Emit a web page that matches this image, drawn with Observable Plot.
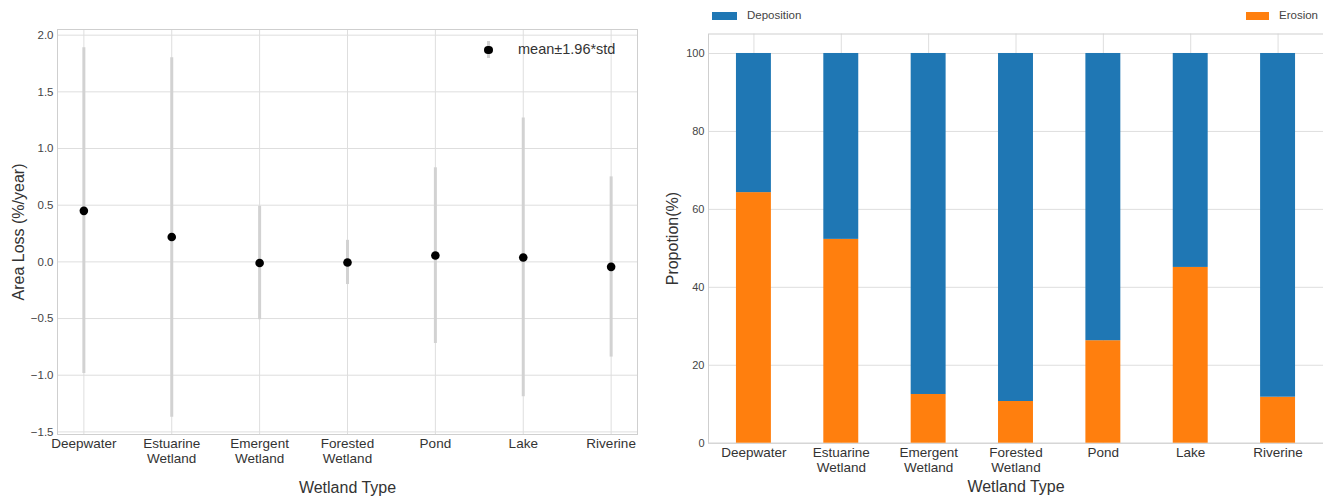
<!DOCTYPE html>
<html>
<head>
<meta charset="utf-8">
<script src="https://cdn.jsdelivr.net/npm/d3@7"></script>
<script src="https://cdn.jsdelivr.net/npm/@observablehq/plot@0.6"></script>
<style>
  body { margin: 0; background: white; }
  #root { position: relative; width: 1323px; height: 496px; overflow: hidden; background: white;
          font-family: "Liberation Sans", Arial, sans-serif; }
  .panel { position: absolute; top: 0; }
  .lg { position: absolute; color: #333; white-space: nowrap; line-height: 1; }
</style>
</head>
<body>
<div id="root"></div>
<script>
// ---------- data ----------
const categories = ["Deepwater", "Estuarine Wetland", "Emergent Wetland", "Forested Wetland", "Pond", "Lake", "Riverine"];
const tickLabels = ["Deepwater", "Estuarine\nWetland", "Emergent\nWetland", "Forested\nWetland", "Pond", "Lake", "Riverine"];
const meanLoss  = [0.45, 0.22, -0.01, -0.005, 0.056, 0.039, -0.044];
const lowerLoss = [-0.985, -1.37, -0.51, -0.20, -0.72, -1.19, -0.84];
const upperLoss = [1.89, 1.80, 0.49, 0.19, 0.83, 1.27, 0.75];
const erosion    = [64.3, 52.3, 12.5, 10.7, 26.3, 45.1, 11.8];
const deposition = [35.7, 47.7, 87.5, 89.3, 73.7, 54.9, 88.2];
const seriesNames = ["Deposition", "Erosion"];
const seriesColors = ["#1f77b4", "#ff7f0e"];
const yTicksLeft = [-1.5, -1.0, -0.5, 0.0, 0.5, 1.0, 1.5, 2.0];
const yTicksRight = [0, 20, 40, 60, 80, 100];
const legendLeft = "mean±1.96*std";

// ---------- tables ----------
const lossRows = categories.map((c, i) => ({cat: c, mean: meanLoss[i], lo: lowerLoss[i], hi: upperLoss[i]}));
const propRows = [];
categories.forEach((c, i) => {
  propRows.push({cat: c, type: "Erosion", value: erosion[i]});
  propRows.push({cat: c, type: "Deposition", value: deposition[i]});
});
const labelOf = new Map(categories.map((c, i) => [c, tickLabels[i]]));
const FONT = "'Liberation Sans', Arial, sans-serif";
const GRID = "#dedede";
const FRAME = "#cfcfcf";
const fmtMinus = d => d.toFixed(1).replace("-", "\u2212");

const root = document.getElementById("root");

// ---------- left panel ----------
const left = Plot.plot({
  width: 660, height: 496,
  marginLeft: 57, marginRight: 23, marginTop: 29, marginBottom: 62,
  style: {fontFamily: FONT, background: "white", color: "#333", overflow: "visible"},
  x: {type: "point", domain: categories, padding: 0.3, round: false},
  y: {domain: [-1.523, 2.05]},
  marks: [
    Plot.gridX(categories, {stroke: GRID, strokeOpacity: 1}),
    Plot.gridY(yTicksLeft, {stroke: GRID, strokeOpacity: 1}),
    Plot.frame({stroke: FRAME}),
    Plot.ruleX(lossRows, {x: "cat", y1: "lo", y2: "hi", stroke: "#d2d2d2", strokeWidth: 3}),
    Plot.dot(lossRows, {x: "cat", y: "mean", r: 4.3, fill: "black"}),
    Plot.axisY(yTicksLeft, {tickSize: 0, tickPadding: 4, tickFormat: fmtMinus, fontSize: 11.5, fill: "#444", label: null}),
    Plot.axisX(categories, {tickSize: 0, tickPadding: 3, tickFormat: d => labelOf.get(d), fontSize: 13.5, lineHeight: 1.11, fill: "#333", label: null}),
    Plot.text(["Wetland Type"], {frameAnchor: "bottom", lineAnchor: "middle", dy: 53, fontSize: 16, fill: "#333"}),
    Plot.text(["Area Loss (%/year)"], {frameAnchor: "left", textAnchor: "middle", dx: -39, rotate: -90, fontSize: 16, fill: "#333"})
  ]
});
left.classList.add("panel");
left.style.left = "0px";
root.appendChild(left);

// ---------- right panel ----------
const right = Plot.plot({
  width: 663, height: 496,
  marginLeft: 48, marginRight: 0, marginTop: 33.5, marginBottom: 53.3,
  style: {fontFamily: FONT, background: "white", color: "#333", overflow: "visible"},
  x: {type: "band", domain: categories, paddingInner: 0.6, paddingOuter: 0.32, round: false},
  y: {domain: [0, 105]},
  color: {domain: seriesNames, range: seriesColors},
  marks: [
    Plot.gridX(categories, {stroke: GRID, strokeOpacity: 1}),
    Plot.gridY(yTicksRight, {stroke: GRID, strokeOpacity: 1}),
    Plot.frame({stroke: FRAME}),
    Plot.barY(propRows, {x: "cat", y: "value", fill: "type", order: ["Erosion", "Deposition"]}),
    Plot.axisY(yTicksRight, {tickSize: 0, tickPadding: 4, fontSize: 11, fill: "#444", label: null}),
    Plot.axisX(categories, {tickSize: 0, tickPadding: 3, tickFormat: d => labelOf.get(d), fontSize: 13.5, lineHeight: 1.11, fill: "#333", label: null}),
    Plot.text(["Wetland Type"], {frameAnchor: "bottom", lineAnchor: "middle", dy: 44, fontSize: 16, fill: "#333"}),
    Plot.text(["Propotion(%)"], {frameAnchor: "left", textAnchor: "middle", dx: -36, rotate: -90, fontSize: 16, fill: "#333"})
  ]
});
right.classList.add("panel");
right.style.left = "660px";
root.appendChild(right);

// ---------- legends (HTML) ----------
function addDiv(style, text) {
  const d = document.createElement("div");
  d.className = "lg";
  Object.assign(d.style, style);
  if (text) d.textContent = text;
  root.appendChild(d);
  return d;
}
// left legend: error bar + dot
addDiv({left: "486.5px", top: "41px", width: "3px", height: "17px", background: "#d2d2d2"});
addDiv({left: "484px", top: "45.5px", width: "8.6px", height: "8.6px", borderRadius: "50%", background: "black"});
addDiv({left: "518px", top: "42px", fontSize: "14.5px", color: "#333"}, legendLeft);
// right legend
addDiv({left: "712px", top: "11.5px", width: "25px", height: "8px", background: seriesColors[0]});
addDiv({left: "747px", top: "10px", fontSize: "11.5px", color: "#444"}, seriesNames[0]);
addDiv({left: "1246px", top: "11.5px", width: "23px", height: "8px", background: seriesColors[1]});
addDiv({left: "1279px", top: "10px", fontSize: "11.5px", color: "#444"}, seriesNames[1]);
</script>
</body>
</html>
